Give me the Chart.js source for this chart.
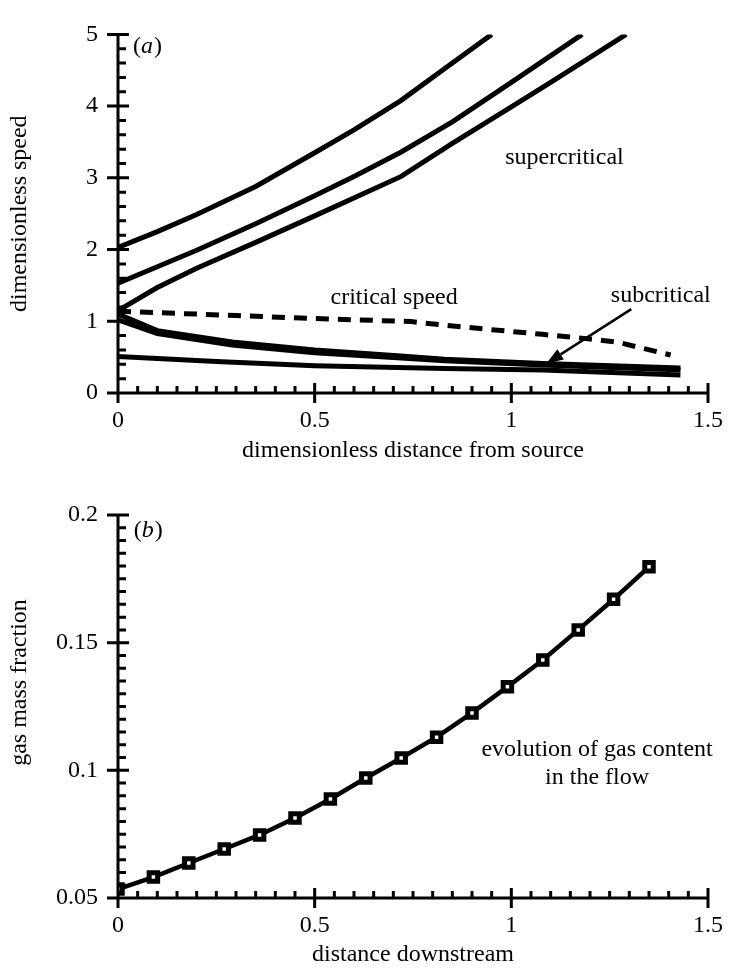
<!DOCTYPE html>
<html>
<head>
<meta charset="utf-8">
<script src="https://cdn.jsdelivr.net/npm/chart.js@4.4.1/dist/chart.umd.min.js"></script>
<style>
    html, body { margin: 0; padding: 0; background: #fff; }
    #speedWrap { position: absolute; left: 0; top: 0; width: 736px; height: 470px; }
    #gasWrap { position: absolute; left: 0; top: 470px; width: 736px; height: 499px; }
</style>
</head>
<body>
<div id="speedWrap"><canvas id="speedChart"></canvas></div>
<div id="gasWrap"><canvas id="gasChart"></canvas></div>
<script>
// --- Data: panel (a) ---
const speedXTicks = [0, 0.5, 1, 1.5];
const speedYTicks = [0, 1, 2, 3, 4, 5];

const superAX = [0, 0.1, 0.2, 0.35, 0.5, 0.6, 0.72, 0.85, 0.95];
const superAY = [2.03, 2.25, 2.49, 2.88, 3.35, 3.67, 4.08, 4.6, 5.0];

const superBX = [0, 0.1, 0.2, 0.35, 0.5, 0.6, 0.72, 0.85, 1.0, 1.18];
const superBY = [1.53, 1.76, 1.99, 2.36, 2.75, 3.02, 3.36, 3.78, 4.33, 5.0];

const superCX = [0, 0.1, 0.2, 0.35, 0.5, 0.72, 0.85, 1.0, 1.1, 1.292];
const superCY = [1.15, 1.47, 1.74, 2.1, 2.47, 3.02, 3.48, 3.99, 4.33, 5.0];

const criticalX = [0, 0.1, 0.3, 0.49, 0.745, 0.822, 0.947, 1.079, 1.205, 1.272, 1.338, 1.405];
const criticalY = [1.14, 1.12, 1.08, 1.04, 0.996, 0.95, 0.884, 0.818, 0.751, 0.707, 0.618, 0.53];

const subAX = [0, 0.1, 0.29, 0.5, 0.71, 0.83, 1.08, 1.43];
const subAY = [1.1, 0.87, 0.71, 0.6, 0.52, 0.47, 0.41, 0.35];
const subBX = [0, 0.1, 0.29, 0.5, 0.71, 0.83, 1.08, 1.43];
const subBY = [1.02, 0.83, 0.67, 0.56, 0.49, 0.45, 0.39, 0.32];
const subCX = [0, 0.25, 0.5, 0.83, 1.08, 1.43];
const subCY = [0.51, 0.44, 0.38, 0.34, 0.32, 0.25];

// --- Data: panel (b) ---
const gasXTicks = [0, 0.5, 1, 1.5];
const gasYTicks = [0.05, 0.1, 0.15, 0.2];
const gasX = [0, 0.09, 0.18, 0.27, 0.36, 0.45, 0.54, 0.63, 0.72, 0.81, 0.9, 0.99, 1.08, 1.17, 1.26, 1.35];
const gasY = [0.0535, 0.0582, 0.0637, 0.0692, 0.0747, 0.0813, 0.0888, 0.097, 0.1048, 0.113, 0.1225, 0.1327, 0.1432, 0.155, 0.167, 0.1797];

const SERIF = '"Liberation Serif", "Times New Roman", serif';
Chart.defaults.font.family = SERIF;
Chart.defaults.font.size = 24;
Chart.defaults.color = '#000';

const pts = (xs, ys) => xs.map((x, i) => ({ x: x, y: ys[i] }));
const plainNum = v => String(Math.round(v * 1000) / 1000);

// --- Plugins ---
// axis lines with crossing major ticks and inward minor ticks
const axisFrame = {
    id: 'axisFrame',
    afterDatasetsDraw(chart, args, opts) {
        const { ctx, scales: { x, y } } = chart;
        const x0 = x.getPixelForValue(x.min), x1 = x.getPixelForValue(x.max);
        const y0 = y.getPixelForValue(y.min), y1 = y.getPixelForValue(y.max);
        ctx.save();
        ctx.strokeStyle = '#000';
        ctx.lineWidth = 3;
        ctx.lineCap = 'butt';
        ctx.beginPath();
        ctx.moveTo(x0 - 1.5, y0); ctx.lineTo(x1 + 1.5, y0);
        ctx.moveTo(x0, y0 + 1.5); ctx.lineTo(x0, y1 - 1.5);
        const nx = Math.round((x.max - x.min) / opts.xMinor);
        for (let i = 0; i <= nx; i++) {
            const px = x.getPixelForValue(x.min + i * opts.xMinor);
            ctx.moveTo(px, y0); ctx.lineTo(px, y0 - 7);
        }
        const ny = Math.round((y.max - y.min) / opts.yMinor);
        for (let i = 0; i <= ny; i++) {
            const py = y.getPixelForValue(y.min + i * opts.yMinor);
            ctx.moveTo(x0, py); ctx.lineTo(x0 + 8, py);
        }
        x.ticks.forEach(t => {
            const px = x.getPixelForValue(t.value);
            ctx.moveTo(px, y0 + 10); ctx.lineTo(px, y0 - 10);
        });
        y.ticks.forEach(t => {
            const py = y.getPixelForValue(t.value);
            ctx.moveTo(x0 - 11, py); ctx.lineTo(x0 + 11, py);
        });
        ctx.stroke();
        ctx.restore();
    }
};

// text notes, panel tag and arrow
const notes = {
    id: 'notes',
    afterDraw(chart, args, opts) {
        const { ctx, scales: { x, y } } = chart;
        ctx.save();
        ctx.fillStyle = '#000';
        ctx.strokeStyle = '#000';
        ctx.textBaseline = 'middle';
        ctx.textAlign = 'center';
        ctx.font = '24px ' + SERIF;
        (opts.labels || []).forEach(l => {
            ctx.fillText(l.text, x.getPixelForValue(l.x), y.getPixelForValue(l.y));
        });

        // panel tag like "(a)" with italic letter
        if (opts.tag) {
            let px = x.getPixelForValue(opts.tag.x);
            const py = y.getPixelForValue(opts.tag.y);
            ctx.textAlign = 'left';
            ctx.font = '24px ' + SERIF;
            ctx.fillText('(', px, py); px += ctx.measureText('(').width;
            ctx.font = 'italic 24px ' + SERIF;
            ctx.fillText(opts.tag.letter, px, py); px += ctx.measureText(opts.tag.letter).width + 1;
            ctx.font = '24px ' + SERIF;
            ctx.fillText(')', px, py);
        }

        if (opts.arrow) {
            const a = opts.arrow;
            const tx = x.getPixelForValue(a.fromX), ty = y.getPixelForValue(a.fromY);
            const hx = x.getPixelForValue(a.toX), hy = y.getPixelForValue(a.toY);
            const ang = Math.atan2(hy - ty, hx - tx);
            const len = 17, half = 6;
            const bx = hx - len * Math.cos(ang), by = hy - len * Math.sin(ang);
            ctx.lineWidth = 2.5;
            ctx.beginPath();
            ctx.moveTo(tx, ty); ctx.lineTo(bx, by);
            ctx.stroke();
            ctx.beginPath();
            ctx.moveTo(hx, hy);
            ctx.lineTo(bx + half * Math.sin(ang), by - half * Math.cos(ang));
            ctx.lineTo(bx - half * Math.sin(ang), by + half * Math.cos(ang));
            ctx.closePath();
            ctx.fill();
        }
        ctx.restore();
    }
};

function solid(xs, ys) {
    return { data: pts(xs, ys), borderColor: '#000', borderWidth: 5, pointRadius: 0, tension: 0, fill: false };
}

// --- Panel (a): speed ---
new Chart(document.getElementById('speedChart'), {
    type: 'line',
    data: {
        datasets: [
            solid(superAX, superAY),
            solid(superBX, superBY),
            solid(superCX, superCY),
            Object.assign(solid(criticalX, criticalY), { borderDash: [13, 9], borderWidth: 5 }),
            solid(subAX, subAY),
            solid(subBX, subBY),
            solid(subCX, subCY)
        ]
    },
    options: {
        responsive: true,
        maintainAspectRatio: false,
        animation: false,
        events: [],
        layout: { padding: { top: 19, right: 20, left: 0, bottom: 0 } },
        plugins: {
            legend: { display: false },
            tooltip: { enabled: false },
            axisFrame: { xMinor: 0.05, yMinor: 0.2 },
            notes: {
                labels: [
                    { text: 'supercritical', x: 1.135, y: 3.28 },
                    { text: 'critical speed', x: 0.702, y: 1.33 },
                    { text: 'subcritical', x: 1.38, y: 1.36 }
                ],
                tag: { letter: 'a', x: 0.038, y: 4.83 },
                arrow: { fromX: 1.305, fromY: 1.17, toX: 1.089, toY: 0.41 }
            }
        },
        scales: {
            x: {
                type: 'linear', min: 0, max: 1.5,
                afterBuildTicks: s => { s.ticks = speedXTicks.map(v => ({ value: v })); },
                afterFit: s => { s.height = 77; },
                grid: { display: false, drawTicks: false },
                border: { display: false },
                ticks: { padding: 13, maxRotation: 0, callback: plainNum },
                title: { display: true, text: 'dimensionless distance from source', padding: { top: 0, bottom: 5 } }
            },
            y: {
                type: 'linear', min: 0, max: 5,
                afterBuildTicks: s => { s.ticks = speedYTicks.map(v => ({ value: v })); },
                afterFit: s => { s.width = 118; },
                grid: { display: false, drawTicks: false },
                border: { display: false },
                ticks: { padding: 20, callback: plainNum },
                title: { display: true, text: 'dimensionless speed', padding: { top: 5, bottom: 0 } }
            }
        }
    },
    plugins: [axisFrame, notes]
});

// --- Panel (b): gas mass fraction ---
new Chart(document.getElementById('gasChart'), {
    type: 'line',
    data: {
        datasets: [{
            data: pts(gasX, gasY),
            borderColor: '#000',
            borderWidth: 4.5,
            tension: 0,
            pointStyle: 'rect',
            pointRadius: 6,
            pointBorderWidth: 5,
            pointBorderColor: '#000',
            pointBackgroundColor: '#fff'
        }]
    },
    options: {
        responsive: true,
        maintainAspectRatio: false,
        animation: false,
        events: [],
        layout: { padding: { top: 45, right: 18, left: 0, bottom: 0 } },
        plugins: {
            legend: { display: false },
            tooltip: { enabled: false },
            axisFrame: { xMinor: 0.05, yMinor: 0.005 },
            notes: {
                labels: [
                    { text: 'evolution of gas content', x: 1.218, y: 0.108 },
                    { text: 'in the flow', x: 1.218, y: 0.097 }
                ],
                tag: { letter: 'b', x: 0.04, y: 0.194 }
            }
        },
        scales: {
            x: {
                type: 'linear', min: 0, max: 1.5,
                afterBuildTicks: s => { s.ticks = gasXTicks.map(v => ({ value: v })); },
                afterFit: s => { s.height = 71; },
                grid: { display: false, drawTicks: false },
                border: { display: false },
                ticks: { padding: 13, maxRotation: 0, callback: plainNum },
                title: { display: true, text: 'distance downstream', padding: { top: 0, bottom: 0 } }
            },
            y: {
                type: 'linear', min: 0.05, max: 0.2,
                afterBuildTicks: s => { s.ticks = gasYTicks.map(v => ({ value: v })); },
                afterFit: s => { s.width = 118; },
                grid: { display: false, drawTicks: false },
                border: { display: false },
                ticks: { padding: 20, callback: plainNum },
                // leading spaces lift the centred title a little, as in the original
                title: { display: true, text: '        gas mass fraction', padding: { top: 5, bottom: 0 } }
            }
        }
    },
    plugins: [axisFrame, notes]
});
</script>
</body>
</html>
